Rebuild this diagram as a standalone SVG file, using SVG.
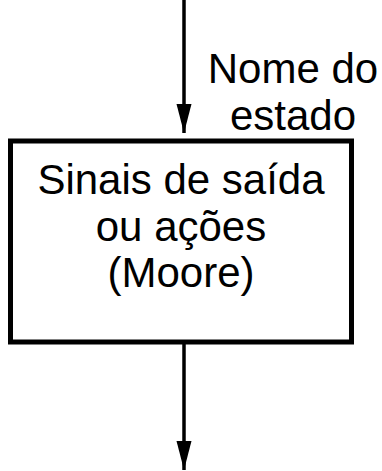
<svg xmlns="http://www.w3.org/2000/svg" width="382" height="471" viewBox="0 0 382 471">
<style>
text{font-family:"Liberation Sans",Arial,sans-serif;font-size:42px;fill:#000;text-anchor:middle}
.ln{stroke:#000;stroke-width:3.5;fill:none}
</style>
<defs>
<marker id="ah" markerUnits="userSpaceOnUse" markerWidth="30" markerHeight="16" refX="29" refY="7.5" orient="auto">
<path d="M0,0 L29,7.5 L0,15 Z" fill="#000"/>
</marker>
</defs>
<rect width="382" height="471" fill="#fff"/>
<g id="connectors">
<line class="ln" x1="184" y1="0" x2="184" y2="133" marker-end="url(#ah)"/>
<line class="ln" x1="184" y1="344" x2="184" y2="470" marker-end="url(#ah)"/>
</g>
<g id="label">
<text x="293" y="83">Nome do</text>
<text x="293" y="130">estado</text>
</g>
<g id="state">
<rect x="10.5" y="141" width="341" height="201" fill="#fff" stroke="#000" stroke-width="5"/>
<text x="181" y="194">Sinais de saída</text>
<text x="181" y="241">ou ações</text>
<text x="181" y="287">(Moore)</text>
</g>
</svg>
